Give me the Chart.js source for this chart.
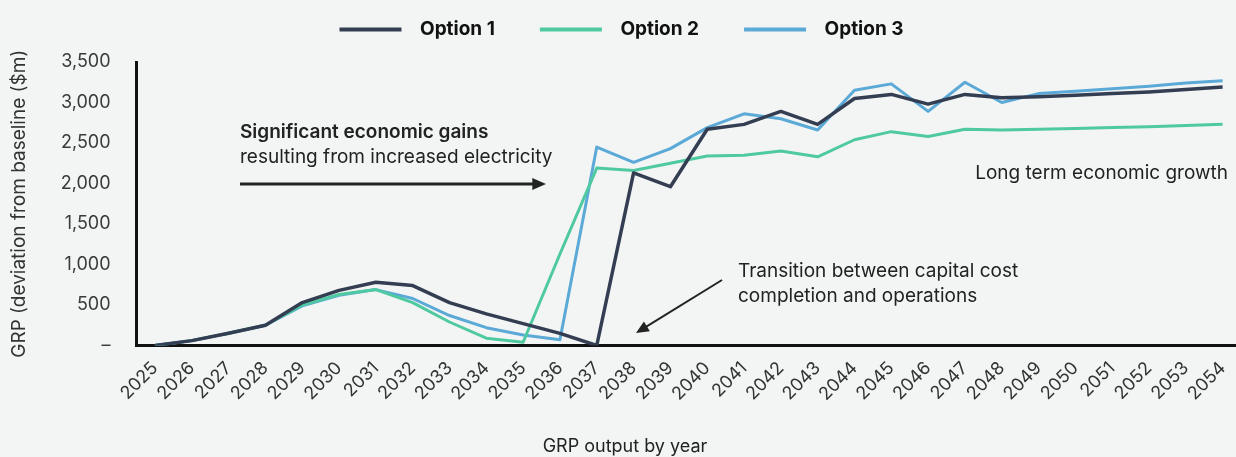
<!DOCTYPE html>
<html>
<head>
<meta charset="utf-8">
<script src="https://cdn.jsdelivr.net/npm/chart.js@4"></script>
<style>
  body { margin: 0; background: #f3f5f5; overflow: hidden; }
  #wrap { width: 1236px; height: 457px; overflow: hidden; }
  #box { width: 1250px; height: 457px; }
</style>
</head>
<body>
<div id="wrap"><div id="box"><canvas id="myChart"></canvas></div></div>
<script>
const years = ['2025','2026','2027','2028','2029','2030','2031','2032','2033','2034',
  '2035','2036','2037','2038','2039','2040','2041','2042','2043','2044',
  '2045','2046','2047','2048','2049','2050','2051','2052','2053','2054']

const option1 = [0, 60, 150, 250, 530, 680, 780, 740, 530, 390,
  270, 150, 0, 2130, 1960, 2670, 2730, 2890, 2730, 3050,
  3100, 2980, 3100, 3060, 3070, 3090, 3110, 3130, 3160, 3190]

const option2 = [0, 60, 150, 250, 500, 630, 690, 530, 290, 90,
  40, 1130, 2190, 2160, 2250, 2340, 2350, 2400, 2330, 2540,
  2640, 2580, 2670, 2660, 2670, 2680, 2690, 2700, 2715, 2730]

const option3 = [0, 60, 150, 250, 490, 620, 690, 580, 370, 220,
  130, 70, 2450, 2260, 2430, 2690, 2860, 2800, 2660, 3150,
  3230, 2890, 3250, 3000, 3110, 3140, 3170, 3200, 3240, 3270]

const yTicks = [0, 500, 1000, 1500, 2000, 2500, 3000, 3500]

const FONT = 'Inter'
const INK = '#222'

function arrow(c, x1, y1, x2, y2, w, head) {
    const a = Math.atan2(y2 - y1, x2 - x1)
    c.save()
    c.strokeStyle = INK
    c.fillStyle = INK
    c.lineWidth = w
    c.beginPath()
    c.moveTo(x1, y1)
    c.lineTo(x2 - Math.cos(a) * head * 0.8, y2 - Math.sin(a) * head * 0.8)
    c.stroke()
    c.beginPath()
    c.moveTo(x2, y2)
    c.lineTo(x2 - head * Math.cos(a - 0.42), y2 - head * Math.sin(a - 0.42))
    c.lineTo(x2 - head * Math.cos(a + 0.42), y2 - head * Math.sin(a + 0.42))
    c.closePath()
    c.fill()
    c.restore()
}

// espaco extra entre a legenda e o grafico
const folgaLegenda = {
    id: 'folgaLegenda',
    beforeInit(chart) {
        const fitOriginal = chart.legend.fit
        chart.legend.fit = function () {
            fitOriginal.bind(chart.legend)()
            this.height += 13
        }
    }
}

// notas e setas por cima do grafico
const notas = {
    id: 'notas',
    afterDraw(chart) {
        const c = chart.ctx
        c.save()
        c.fillStyle = INK
        c.textBaseline = 'middle'
        c.textAlign = 'left'
        c.font = '600 19px ' + FONT
        c.fillText('Significant economic gains', 240, 132)
        c.font = '19px ' + FONT
        c.fillText('resulting from increased electricity', 240, 157)
        c.fillText('Transition between capital cost', 738, 271)
        c.fillText('completion and operations', 738, 296)
        c.textAlign = 'right'
        c.fillText('Long term economic growth', 1228, 173)
        c.textAlign = 'center'
        c.font = '18px ' + FONT
        c.fillText('GRP output by year', 625, 447)
        c.restore()

        arrow(c, 240, 184, 546, 184, 3, 15)
        arrow(c, 722, 280, 636, 333, 2, 14)
    }
}

const ctx = document.getElementById('myChart')

const data = {
    labels: years,
    datasets: [
        { label: 'Option 1', data: option1, borderColor: '#343e53', backgroundColor: '#343e53', borderWidth: 3.5 },
        { label: 'Option 2', data: option2, borderColor: '#4fc9a0', backgroundColor: '#4fc9a0', borderWidth: 3 },
        { label: 'Option 3', data: option3, borderColor: '#5aa9d6', backgroundColor: '#5aa9d6', borderWidth: 3 }
    ]
}

const config = {
    type: 'line',
    data,
    options: {
        responsive: true,
        maintainAspectRatio: false,
        animation: false,
        layout: { padding: { top: 2, right: 6, bottom: 40, left: 8 } },
        elements: { point: { radius: 0 }, line: { tension: 0, borderJoinStyle: 'round' } },
        plugins: {
            tooltip: { enabled: false },
            legend: {
                position: 'top',
                labels: {
                    boxWidth: 62,
                    boxHeight: 4,
                    padding: 18,
                    color: '#111',
                    font: { family: FONT, size: 19, weight: 'bold' },
                    generateLabels(chart) {
                        const itens = Chart.defaults.plugins.legend.labels.generateLabels(chart)
                        itens.forEach(function (it, i) {
                            it.text = '  ' + it.text + (i < itens.length - 1 ? '      ' : '  ')
                            it.lineWidth = 0
                            it.fillStyle = it.strokeStyle
                        })
                        return itens
                    }
                }
            }
        },
        scales: {
            x: {
                offset: true,
                grid: { display: false, drawTicks: false },
                border: { color: '#111', width: 3 },
                ticks: {
                    autoSkip: false, minRotation: 45, maxRotation: 45,
                    padding: 12, color: '#333',
                    font: { family: FONT, size: 18 }
                }
            },
            y: {
                min: 0, max: 3500,
                afterBuildTicks(scale) { scale.ticks = yTicks.map(v => ({ value: v })) },
                grid: { display: false, drawTicks: false },
                border: { color: '#111', width: 3 },
                ticks: {
                    padding: 26, color: '#3a3a3a',
                    font: { family: FONT, size: 18 },
                    callback: v => v === 0 ? '–' : v.toLocaleString('en-US')
                },
                title: {
                    display: true,
                    text: 'GRP (deviation from baseline ($m)',
                    color: '#333',
                    font: { family: FONT, size: 19 },
                    padding: { top: 0, bottom: 4 }
                }
            }
        }
    },
    plugins: [folgaLegenda, notas]
}

const myChart = new Chart(ctx, config)
</script>
</body>
</html>
